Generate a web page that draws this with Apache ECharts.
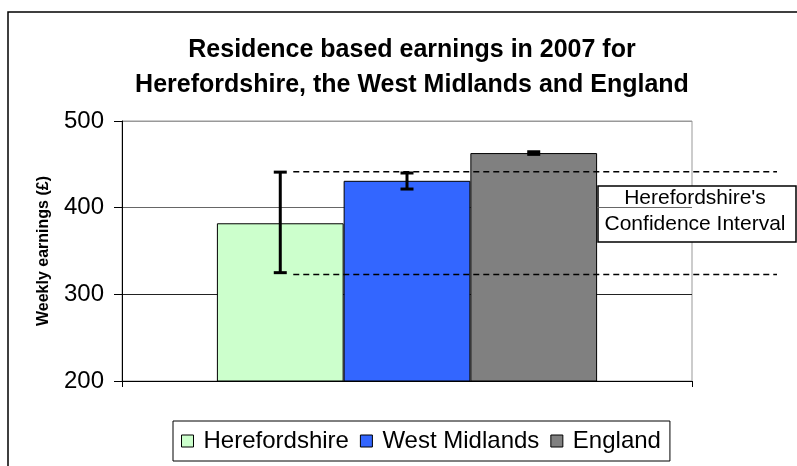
<!DOCTYPE html>
<html>
<head>
    <meta charset="utf-8">
    <title>Residence based earnings 2007</title>
    <script src="https://cdn.jsdelivr.net/npm/echarts@6/dist/echarts.min.js"></script>
</head>
<body style="margin:0">
<div id="chart" style="width: 797px; height: 466px;"></div>
<script>
    // data
    var areas = ['Herefordshire', 'West Midlands', 'England'];
    var earnings = [382, 431, 463];
    var ciLow = [325, 421.5, 461.5];
    var ciHigh = [441, 440, 464.5];
    var herefordBand = [441.5, 323]; // dashed lines
    var yTicks = [200, 300, 400, 500];
    var colors = ['#ccffcc', '#3366ff', '#808080'];

    var font = 'Arial, "Liberation Sans", sans-serif';
    var gapRatio = 0.333;

    var chart = echarts.init(document.getElementById('chart'));

    var barSeries = areas.map(function (name, i) {
        return {
            name: name,
            type: 'bar',
            data: [earnings[i]],
            barGap: '0%',
            barCategoryGap: '33.3%',
            itemStyle: {color: colors[i], borderColor: '#000', borderWidth: 1},
            emphasis: {disabled: true}
        };
    });

    var errData = areas.map(function (name, i) {
        return [0, ciLow[i], ciHigh[i], i];
    });

    var option = {
        animation: false,
        title: {
            text: 'Residence based earnings in 2007 for\nHerefordshire, the West Midlands and England',
            left: 407,
            textAlign: 'center',
            top: 28,
            textStyle: {fontFamily: font, fontSize: 25, fontWeight: 'bold', color: '#000', lineHeight: 35}
        },
        legend: {
            data: areas,
            left: 173,
            top: 421,
            padding: [8, 9, 8, 8],
            itemGap: 11,
            itemWidth: 12,
            itemHeight: 12,
            icon: 'rect',
            borderColor: '#000',
            borderWidth: 1,
            itemStyle: {borderColor: '#000', borderWidth: 1},
            textStyle: {fontFamily: font, fontSize: 24, color: '#000', padding: [0, 0, 0, 5]}
        },
        grid: {
            left: 122, right: 105, top: 121, bottom: 85,
            show: true, borderColor: '#999', borderWidth: 1, backgroundColor: '#fff'
        },
        xAxis: {
            type: 'category',
            data: [''],
            axisLine: {lineStyle: {color: '#000', width: 1}},
            axisTick: {show: true, length: 6, lineStyle: {color: '#000'}},
            axisLabel: {show: false}
        },
        yAxis: {
            type: 'value',
            min: yTicks[0],
            max: yTicks[yTicks.length - 1],
            interval: 100,
            name: 'Weekly earnings (£)',
            nameLocation: 'middle',
            nameGap: 70,
            nameTextStyle: {fontFamily: font, fontSize: 16, fontWeight: 'bold', color: '#000'},
            axisLine: {show: true, lineStyle: {color: '#000', width: 1}},
            axisTick: {show: true, length: 8, lineStyle: {color: '#000'}},
            axisLabel: {fontFamily: font, fontSize: 24, color: '#000', margin: 18},
            splitLine: {show: true, lineStyle: {color: ['#000', '#222', '#666', '#999'], width: 1}}
        },
        series: barSeries.concat([
            {
                type: 'custom',
                name: 'ci',
                z: 5,
                data: errData,
                encode: {x: 0, y: [1, 2]},
                renderItem: function (params, api) {
                    var lo = api.coord([api.value(0), api.value(1)]);
                    var hi = api.coord([api.value(0), api.value(2)]);
                    var bw = api.size([1, 0])[0] * (1 - gapRatio) / 3;
                    var cx = lo[0] + (api.value(3) - 1) * bw;
                    var cap = 6.5;
                    var st = {stroke: '#000', lineWidth: 3};
                    return {
                        type: 'group',
                        children: [
                            {type: 'line', shape: {x1: cx, y1: lo[1], x2: cx, y2: hi[1]}, style: st},
                            {type: 'line', shape: {x1: cx - cap, y1: lo[1], x2: cx + cap, y2: lo[1]}, style: st},
                            {type: 'line', shape: {x1: cx - cap, y1: hi[1], x2: cx + cap, y2: hi[1]}, style: st}
                        ]
                    };
                }
            },
            {
                type: 'custom',
                name: 'band',
                z: 6,
                data: herefordBand.map(function (v) { return [0, v]; }),
                encode: {x: 0, y: 1},
                renderItem: function (params, api) {
                    var p = api.coord([api.value(0), api.value(1)]);
                    var bw = api.size([1, 0])[0] * (1 - gapRatio) / 3;
                    var x1 = p[0] - bw + 13;
                    var x2 = params.coordSys.x + params.coordSys.width + 85;
                    return {
                        type: 'line',
                        shape: {x1: x1, y1: p[1], x2: x2, y2: p[1]},
                        style: {stroke: '#000', lineWidth: 1.5, lineDash: [6, 4]}
                    };
                }
            }
        ]),
        graphic: [
            {
                type: 'rect',
                z: -10,
                shape: {x: 8, y: 12, width: 900, height: 600},
                style: {fill: null, stroke: '#000', lineWidth: 1.5}
            },
            {
                type: 'group',
                z: 100,
                children: [
                    {
                        type: 'rect',
                        shape: {x: 598, y: 186, width: 198, height: 56},
                        style: {fill: '#fff', stroke: '#000', lineWidth: 1.5}
                    },
                    {
                        type: 'text',
                        x: 695,
                        y: 211,
                        style: {
                            text: "Herefordshire's\nConfidence Interval",
                            font: '21px ' + font,
                            fill: '#000',
                            align: 'center',
                            verticalAlign: 'middle',
                            lineHeight: 26
                        }
                    }
                ]
            }
        ]
    };

    chart.setOption(option);
</script>
</body>
</html>
